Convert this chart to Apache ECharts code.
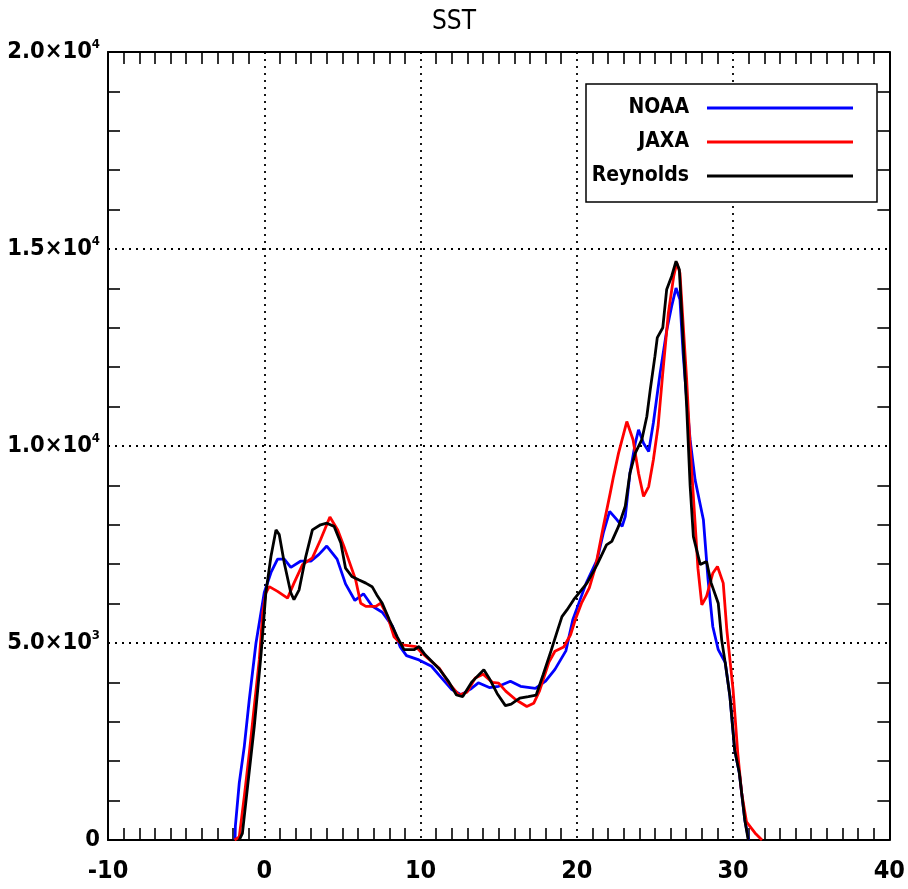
<!DOCTYPE html>
<html>
<head>
<meta charset="utf-8">
<title>SST</title>
<script src="https://cdn.jsdelivr.net/npm/echarts@6/dist/echarts.min.js"></script>
<style>
  html, body { margin: 0; padding: 0; background: #ffffff; }
  #chart { width: 908px; height: 889px; }
</style>
</head>
<body>
<div id="chart"></div>
<script>
// SST histograms: [temperature (°C), count]
const seriesNames = ['NOAA', 'JAXA', 'Reynolds'];
const seriesColors = ['#0000ff', '#ff0000', '#000000'];

const noaa = [
  [-1.87, 0], [-1.85, 350], [-1.6, 1450], [-1.28, 2370], [-0.96, 3560], [-0.53, 5000],
  [0.0, 6280], [0.43, 6790], [0.85, 7130], [1.28, 7130], [1.7, 6920], [2.34, 7080],
  [2.98, 7080], [3.5, 7250], [4.0, 7460], [4.66, 7130], [5.2, 6500], [5.8, 6080],
  [6.35, 6250], [6.9, 5940], [7.55, 5780], [8.2, 5430], [8.7, 4900], [9.1, 4680],
  [9.9, 4570], [10.7, 4410], [11.2, 4180], [12.0, 3820], [12.6, 3690], [13.2, 3830],
  [13.7, 3990], [14.4, 3870], [15.0, 3900], [15.75, 4030], [16.4, 3900], [17.35, 3850],
  [18.0, 4030], [18.6, 4330], [19.3, 4800], [19.75, 5600], [20.6, 6520], [21.3, 7110],
  [21.7, 7800], [22.1, 8340], [22.56, 8130], [22.9, 7960], [23.1, 8210], [23.4, 9310],
  [23.74, 10070], [23.95, 10410], [24.27, 10070], [24.6, 9860], [24.9, 10590], [25.33, 11850],
  [25.76, 12950], [26.07, 13550], [26.35, 14010], [26.6, 13720], [26.8, 12360], [27.03, 11180],
  [27.25, 10160], [27.57, 9140], [27.8, 8700], [28.1, 8130], [28.4, 6600], [28.7, 5420],
  [29.05, 4830], [29.5, 4500], [29.8, 3640], [30.1, 2290], [30.4, 1700], [30.75, 510],
  [31.0, 0]
];

const jaxa = [
  [-1.9, 0], [-1.6, 80], [-1.28, 1100], [-0.96, 2200], [-0.64, 3390], [-0.32, 4570],
  [-0.1, 5760], [0.1, 6270], [0.32, 6430], [0.85, 6310], [1.49, 6140], [1.9, 6520],
  [2.45, 6990], [3.08, 7160], [3.6, 7620], [4.2, 8200], [4.7, 7870], [5.1, 7450],
  [5.4, 7110], [5.85, 6600], [6.17, 6010], [6.5, 5930], [7.13, 5930], [7.45, 6010],
  [7.9, 5670], [8.3, 5160], [8.83, 4950], [9.7, 4910], [10.1, 4740], [11.2, 4360],
  [11.8, 3990], [12.45, 3680], [12.97, 3750], [13.5, 4110], [14.0, 4210], [14.6, 4000],
  [15.0, 3980], [15.45, 3780], [16.1, 3560], [16.8, 3390], [17.24, 3470], [17.6, 3770],
  [18.2, 4500], [18.6, 4790], [19.16, 4900], [19.6, 5210], [19.9, 5590], [20.3, 6010],
  [20.8, 6400], [21.2, 6940], [21.7, 7960], [22.14, 8810], [22.35, 9230], [22.67, 9820],
  [23.2, 10620], [23.6, 10160], [23.95, 9310], [24.27, 8720], [24.6, 8970], [24.9, 9650],
  [25.2, 10500], [25.5, 11850], [25.86, 13380], [26.2, 14310], [26.4, 14650], [26.6, 14390],
  [26.8, 13120], [27.03, 11680], [27.25, 9990], [27.57, 8040], [27.75, 6900], [28.0, 5970],
  [28.3, 6180], [28.7, 6770], [29.0, 6940], [29.37, 6520], [29.6, 5330], [29.8, 4570],
  [30.0, 3810], [30.3, 2200], [30.55, 1190], [30.86, 460], [31.4, 180], [31.85, 0]
];

const reynolds = [
  [-1.6, 0], [-1.4, 170], [-1.07, 1350], [-0.64, 2880], [-0.2, 4740], [0.1, 6270],
  [0.43, 7200], [0.75, 7870], [0.96, 7750], [1.28, 7030], [1.7, 6270], [1.9, 6100],
  [2.23, 6350], [2.66, 7200], [3.08, 7870], [3.6, 8000], [4.0, 8040], [4.47, 7960],
  [4.9, 7540], [5.2, 6900], [5.6, 6690], [6.07, 6600], [6.5, 6520], [6.9, 6430],
  [7.2, 6220], [7.55, 6010], [8.0, 5590], [8.5, 5160], [8.94, 4830], [9.58, 4830],
  [9.9, 4910], [10.3, 4700], [11.2, 4340], [11.8, 4020], [12.3, 3680], [12.7, 3640],
  [13.3, 4020], [14.05, 4320], [14.4, 4100], [14.9, 3720], [15.43, 3410], [15.8, 3450],
  [16.35, 3600], [16.9, 3640], [17.4, 3680], [17.85, 4200], [18.35, 4800], [18.75, 5300],
  [19.05, 5670], [19.37, 5840], [19.8, 6100], [20.65, 6520], [21.3, 6990], [21.9, 7490],
  [22.24, 7580], [22.67, 7960], [23.1, 8470], [23.4, 9310], [23.74, 9820], [24.16, 10160],
  [24.48, 10750], [24.7, 11430], [25.0, 12280], [25.15, 12750], [25.5, 13000], [25.75, 13970],
  [26.07, 14310], [26.35, 14690], [26.56, 14480], [26.8, 12700], [27.03, 11000], [27.25, 9000],
  [27.46, 7700], [27.9, 6990], [28.3, 7070], [28.6, 6520], [29.05, 6010], [29.27, 5080],
  [29.5, 4490], [29.8, 3640], [30.1, 2290], [30.4, 1700], [30.75, 510], [30.97, 0]
];

// Axis ticks
const xRange = [-10, 40];
const xStep = 10;
const yRange = [0, 20000];
const yStep = 5000;
const yTickValues = [0, 5000, 10000, 15000, 20000];
const yTickMantissa = ['0', '5.0', '1.0', '1.5', '2.0'];
const yTickExponent = ['', '3', '4', '4', '4'];

const FONT = "'DejaVu Sans Condensed', 'DejaVu Sans', sans-serif";
const chart = echarts.init(document.getElementById('chart'), null, { renderer: 'canvas' });

const frameLine = { show: true, onZero: false, lineStyle: { color: '#000', width: 2 } };
const gridDots = { show: true, lineStyle: { color: '#000', width: 1.8, type: [2, 5] } };
const xMinor = { show: true, splitNumber: 10, length: 12, lineStyle: { color: '#000', width: 1.6 } };
const yMinor = { show: true, splitNumber: 5, length: 12, lineStyle: { color: '#000', width: 1.6 } };
const hiddenTick = { show: false, inside: true };

function yLabel(value) {
  const i = yTickValues.indexOf(value);
  if (i < 0) return '';
  if (!yTickExponent[i]) return yTickMantissa[i];
  return yTickMantissa[i] + '×10{sup|' + yTickExponent[i] + '}';
}

const datasets = [noaa, jaxa, reynolds];

chart.setOption({
  animation: false,
  backgroundColor: '#ffffff',
  title: {
    text: 'SST',
    left: 'center',
    top: 4,
    textStyle: { fontFamily: FONT, fontSize: 26, fontWeight: 'normal', color: '#000' }
  },
  legend: {
    orient: 'vertical',
    left: 586,
    top: 84,
    align: 'right',
    data: seriesNames,
    icon: 'rect',
    itemWidth: 146,
    itemHeight: 3,
    itemGap: 12,
    padding: [13, 24, 15, 3],
    borderColor: '#000',
    borderWidth: 1.5,
    backgroundColor: '#ffffff',
    textStyle: {
      fontFamily: FONT, fontSize: 21, fontWeight: 'bold', color: '#000',
      width: 100, align: 'right', lineHeight: 22, padding: [0, 13, 0, 0]
    }
  },
  grid: { left: 108, right: 17, top: 52, bottom: 49, containLabel: false },
  xAxis: [
    {
      type: 'value', position: 'bottom', min: xRange[0], max: xRange[1], interval: xStep,
      axisLine: frameLine, axisTick: hiddenTick, minorTick: xMinor, splitLine: gridDots,
      axisLabel: { fontFamily: FONT, fontSize: 25, fontWeight: 'bold', color: '#000', margin: 19 }
    },
    {
      type: 'value', position: 'top', min: xRange[0], max: xRange[1], interval: xStep,
      axisLine: frameLine, axisTick: hiddenTick, minorTick: xMinor,
      splitLine: { show: false }, axisLabel: { show: false }
    }
  ],
  yAxis: [
    {
      type: 'value', position: 'left', min: yRange[0], max: yRange[1], interval: yStep,
      axisLine: frameLine, axisTick: hiddenTick, minorTick: yMinor, splitLine: gridDots,
      axisLabel: {
        fontFamily: FONT, fontSize: 23.5, fontWeight: 'bold', color: '#000', margin: 8,
        formatter: yLabel,
        rich: { sup: { fontFamily: FONT, fontSize: 13, fontWeight: 'bold', color: '#000', padding: [0, 0, 14, 0] } }
      }
    },
    {
      type: 'value', position: 'right', min: yRange[0], max: yRange[1], interval: yStep,
      axisLine: frameLine, axisTick: hiddenTick, minorTick: yMinor,
      splitLine: { show: false }, axisLabel: { show: false }
    }
  ],
  series: seriesNames.map((name, i) => ({
    name: name,
    type: 'line',
    xAxisIndex: 0,
    yAxisIndex: 0,
    data: datasets[i],
    symbol: 'none',
    showSymbol: false,
    smooth: false,
    color: seriesColors[i],
    lineStyle: { color: seriesColors[i], width: 2.8 },
    z: 2 + i
  }))
});
</script>
</body>
</html>
